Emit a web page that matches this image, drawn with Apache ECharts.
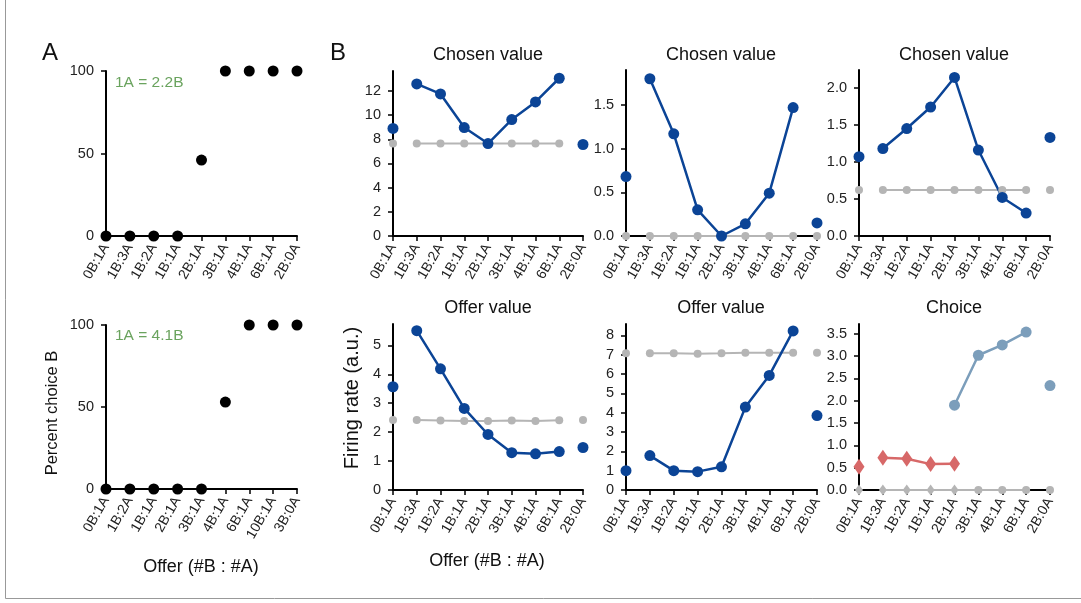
<!DOCTYPE html>
<html>
<head>
<meta charset="utf-8">
<script src="https://cdn.jsdelivr.net/npm/echarts@6/dist/echarts.min.js"></script>
<style>
  html, body { margin: 0; background: #fff; }
  #chart { width: 1081px; height: 603px; }
</style>
</head>
<body>
<div id="chart"></div>
<script>
// Panel A: percent choice of B for two sessions
const offersA1 = ["0B:1A", "1B:3A", "1B:2A", "1B:1A", "2B:1A", "3B:1A", "4B:1A", "6B:1A", "2B:0A"];
const choiceA1 = [0, 0, 0, 0, 46, 100, 100, 100, 100];
const offersA2 = ["0B:1A", "1B:2A", "1B:1A", "2B:1A", "3B:1A", "4B:1A", "6B:1A", "10B:1A", "3B:0A"];
const choiceA2 = [0, 0, 0, 0, 0, 53, 100, 100, 100];

// Panel B: firing rates, same offers in every panel
const offersB = ["0B:1A", "1B:3A", "1B:2A", "1B:1A", "2B:1A", "3B:1A", "4B:1A", "6B:1A", "2B:0A"];
const chosen1Blue = [8.9, 12.58, 11.75, 8.97, 7.65, 9.63, 11.09, 13.05, 7.57];
const chosen1Grey = [7.65, 7.65, 7.65, 7.65, 7.65, 7.65, 7.65, 7.65, 7.65];
const chosen2Blue = [0.68, 1.8, 1.17, 0.3, 0, 0.14, 0.49, 1.47, 0.15];
const chosen2Grey = [0, 0, 0, 0, 0, 0, 0, 0, 0];
const chosen3Blue = [1.07, 1.18, 1.45, 1.74, 2.14, 1.16, 0.52, 0.31, 1.33];
const chosen3Grey = [0.62, 0.62, 0.62, 0.62, 0.62, 0.62, 0.62, 0.62, 0.62];
const offer1Blue = [3.57, 5.51, 4.19, 2.82, 1.92, 1.29, 1.25, 1.33, 1.47];
const offer1Grey = [2.42, 2.42, 2.4, 2.39, 2.39, 2.4, 2.39, 2.41, 2.42];
const offer2Blue = [1.0, 1.78, 1.0, 0.95, 1.2, 4.29, 5.93, 8.23, 3.85];
const offer2Grey = [7.08, 7.08, 7.08, 7.05, 7.07, 7.1, 7.1, 7.1, 7.1];
const choiceSteel = ["-", "-", "-", "-", 1.9, 3.02, 3.25, 3.54, 2.34];
const choiceRed = [0.52, 0.72, 0.7, 0.58, 0.59, "-", "-", "-", "-"];
const choiceGrey = [0, 0, 0, 0, 0, 0, 0, 0, 0];

const BLUE = "#0b4496";
const GREY = "#b5b5b5";
const RED = "#d76868";
const STEEL = "#7c9ebb";
const GREEN = "#6aa35e";
const FONT = "Liberation Sans, Arial, sans-serif";

const grids = [
  { left: 106, top: 71, width: 191, height: 165 },
  { left: 106, top: 325, width: 191, height: 164 },
  { left: 393, top: 71, width: 190, height: 165 },
  { left: 626, top: 70, width: 191, height: 166 },
  { left: 859, top: 70, width: 191, height: 166 },
  { left: 393, top: 324, width: 190, height: 166 },
  { left: 626, top: 324, width: 191, height: 166 },
  { left: 859, top: 324, width: 191, height: 166 },
];
const yMax = [100, 100, 13.65, 1.9, 2.24, 5.74, 8.59, 3.72];
const yTicks = [
  [0, 50, 100],
  [0, 50, 100],
  [0, 2, 4, 6, 8, 10, 12],
  [0, 0.5, 1, 1.5],
  [0, 0.5, 1, 1.5, 2],
  [0, 1, 2, 3, 4, 5],
  [0, 1, 2, 3, 4, 5, 6, 7, 8],
  [0, 0.5, 1, 1.5, 2, 2.5, 3, 3.5],
];
const yDecimals = [0, 0, 0, 1, 1, 0, 0, 1];
const xCats = [offersA1, offersA2, offersB, offersB, offersB, offersB, offersB, offersB];

const axisLine = { show: true, onZero: false, lineStyle: { color: "#000", width: 2 } };
const axisTick = { show: true, length: 5, lineStyle: { color: "#000", width: 1.5 } };

const xAxis = grids.map((g, i) => ({
  type: "category",
  gridIndex: i,
  data: xCats[i],
  boundaryGap: false,
  axisLine,
  axisTick: { ...axisTick, interval: 0 },
  axisLabel: { interval: 0, rotate: 60, margin: 9, color: "#222", fontSize: 14, fontFamily: FONT },
  splitLine: { show: false },
}));

const yAxis = grids.map((g, i) => ({
  type: "value",
  gridIndex: i,
  min: 0,
  max: yMax[i],
  axisLine,
  axisTick: { ...axisTick, customValues: yTicks[i] },
  axisLabel: {
    customValues: yTicks[i],
    margin: 12,
    color: "#222",
    fontSize: 14.5,
    fontFamily: FONT,
    formatter: (v) => Number(v).toFixed(yDecimals[i]),
  },
  splitLine: { show: false },
}));

// connected middle part and the two isolated end points
function trace(grid, values, color, size, width, symbol) {
  const last = values.length - 1;
  const mid = values.map((v, k) => (k === 0 || k === last ? "-" : v));
  const ends = values.map((v, k) => (k === 0 || k === last ? v : "-"));
  return [
    {
      type: "line",
      xAxisIndex: grid,
      yAxisIndex: grid,
      data: mid,
      clip: false,
      symbol,
      symbolSize: size,
      showSymbol: true,
      lineStyle: { color, width },
      itemStyle: { color, opacity: 1 },
    },
    {
      type: "scatter",
      xAxisIndex: grid,
      yAxisIndex: grid,
      data: ends,
      clip: false,
      symbol,
      symbolSize: size,
      itemStyle: { color, opacity: 1 },
    },
  ];
}

const dot = (grid, values) => ({
  type: "scatter",
  xAxisIndex: grid,
  yAxisIndex: grid,
  data: values,
  clip: false,
  symbolSize: 11,
  itemStyle: { color: "#000", opacity: 1 },
});

const greyShape = (v, p) => (p.dataIndex < 5 ? "diamond" : "circle");
const greySize = (v, p) => (p.dataIndex < 5 ? [8, 11] : 8);

const series = [
  dot(0, choiceA1),
  dot(1, choiceA2),
  ...trace(2, chosen1Grey, GREY, 8, 2, "circle"),
  ...trace(2, chosen1Blue, BLUE, 11, 2.5, "circle"),
  ...trace(3, chosen2Grey, GREY, 8, 2, "circle"),
  ...trace(3, chosen2Blue, BLUE, 11, 2.5, "circle"),
  ...trace(4, chosen3Grey, GREY, 8, 2, "circle"),
  ...trace(4, chosen3Blue, BLUE, 11, 2.5, "circle"),
  ...trace(5, offer1Grey, GREY, 8, 2, "circle"),
  ...trace(5, offer1Blue, BLUE, 11, 2.5, "circle"),
  ...trace(6, offer2Grey, GREY, 8, 2, "circle"),
  ...trace(6, offer2Blue, BLUE, 11, 2.5, "circle"),
  ...trace(7, choiceGrey, GREY, greySize, 2, greyShape),
  ...trace(7, choiceRed, RED, [11, 16], 2.5, "diamond"),
  ...trace(7, choiceSteel, STEEL, 11, 2.5, "circle"),
];

const titleStyle = { color: "#111", fontSize: 18, fontWeight: "normal", fontFamily: FONT };
const titles = [
  { text: "Chosen value", left: 488, top: 46 },
  { text: "Chosen value", left: 721, top: 46 },
  { text: "Chosen value", left: 954, top: 46 },
  { text: "Offer value", left: 488, top: 299 },
  { text: "Offer value", left: 721, top: 299 },
  { text: "Choice", left: 954, top: 299 },
].map((t) => ({ ...t, padding: 0, textAlign: "center", textStyle: titleStyle }));

const label = (text, x, y, size, extra) => ({
  type: "text",
  x,
  y,
  ...extra,
  style: { text, fill: "#111", font: size + "px " + FONT, align: "center", verticalAlign: "middle" },
});

const graphic = [
  { type: "polyline", shape: { points: [[5.5, 0], [5.5, 598.5], [1081, 598.5]] }, style: { stroke: "#999", lineWidth: 1, fill: null } },
  label("A", 50, 53, 24),
  label("B", 338, 53, 24),
  { type: "text", x: 115, y: 83, style: { text: "1A = 2.2B", fill: GREEN, font: "15.5px " + FONT, verticalAlign: "middle" } },
  { type: "text", x: 115, y: 336, style: { text: "1A = 4.1B", fill: GREEN, font: "15.5px " + FONT, verticalAlign: "middle" } },
  label("Percent choice B", 52, 413, 16.5, { rotation: Math.PI / 2 }),
  label("Firing rate (a.u.)", 352, 398, 20, { rotation: Math.PI / 2 }),
  label("Offer (#B : #A)", 201, 567, 18),
  label("Offer (#B : #A)", 487, 561, 18),
];

const chart = echarts.init(document.getElementById("chart"));
chart.setOption({
  animation: false,
  backgroundColor: "#fff",
  title: titles,
  grid: grids,
  xAxis,
  yAxis,
  series,
  graphic,
});
</script>
</body>
</html>
